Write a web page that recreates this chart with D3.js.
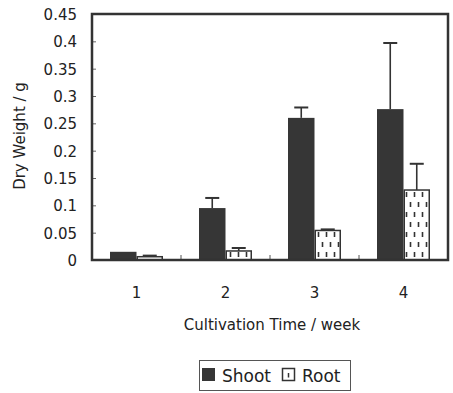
<!DOCTYPE html>
<html><head><meta charset="utf-8">
<script src="https://cdn.jsdelivr.net/npm/d3@7"></script>
<style>body{margin:0;background:#fff}svg{display:block}text{font-family:"DejaVu Sans",Arial,sans-serif;fill:#222}</style>
</head><body><svg id="c" width="453" height="393"></svg>
<script>
const weeks = ["1","2","3","4"];
const shoot = [0.015, 0.095, 0.26, 0.276];
const shootErr = [0.0, 0.0185, 0.019, 0.121];
const root = [0.006, 0.0165, 0.054, 0.128];
const rootErr = [0.002, 0.0055, 0.002, 0.048];
const yTicks = [0,0.05,0.1,0.15,0.2,0.25,0.3,0.35,0.4,0.45];
const seriesNames = ["Shoot","Root"];

const svg = d3.select("#c");
const L=92, R=448, T=14, B=260;
const x = d3.scaleBand().domain(weeks).range([L,R]).paddingInner(0).paddingOuter(0);
const y = d3.scaleLinear().domain([0,0.45]).range([B,T]);
const bw = 26.5;
const ink = "#333";

const defs = svg.append("defs");
const pat = defs.append("pattern").attr("id","dash").attr("patternUnits","userSpaceOnUse")
  .attr("width",8).attr("height",20).attr("x",0).attr("y",0);
pat.append("rect").attr("width",8).attr("height",20).attr("fill","#fff");
pat.append("line").attr("x1",2.5).attr("x2",2.5).attr("y1",2).attr("y2",7).attr("stroke",ink).attr("stroke-width",1.6);
pat.append("line").attr("x1",6.5).attr("x2",6.5).attr("y1",12).attr("y2",17).attr("stroke",ink).attr("stroke-width",1.6);

const yAx = svg.append("g").attr("transform",`translate(${L},0)`)
  .call(d3.axisLeft(y).tickValues(yTicks).tickSize(-4).tickPadding(15).tickFormat(d=>d3.format("")(d)));
yAx.select(".domain").remove();
yAx.selectAll("line").attr("stroke","#666").attr("stroke-width",1);
yAx.selectAll("text").style("font-size","15px").attr("fill","#222").attr("dy","0.36em");

const xAx = svg.append("g").attr("transform",`translate(0,${B})`)
  .call(d3.axisBottom(x).tickSize(0).tickPadding(27));
xAx.select(".domain").remove();
xAx.selectAll("text").style("font-size","15px").attr("fill","#222");
svg.append("g").selectAll("line").data(weeks.slice(1)).join("line")
  .attr("x1",d=>x(d)).attr("x2",d=>x(d)).attr("y1",B).attr("y2",B-5)
  .attr("stroke","#555").attr("stroke-width",1);

const g = svg.append("g");
weeks.forEach((w,i)=>{
  const c = x(w)+x.bandwidth()/2;
  g.append("rect").attr("x",c-bw).attr("width",bw).attr("y",y(shoot[i])).attr("height",y(0)-y(shoot[i]))
   .attr("fill","#363636");
  if(shootErr[i]>0){
    g.append("line").attr("x1",c-bw/2).attr("x2",c-bw/2).attr("y1",y(shoot[i])).attr("y2",y(shoot[i]+shootErr[i])).attr("stroke",ink).attr("stroke-width",1.6);
    g.append("line").attr("x1",c-bw/2-7).attr("x2",c-bw/2+7).attr("y1",y(shoot[i]+shootErr[i])).attr("y2",y(shoot[i]+shootErr[i])).attr("stroke",ink).attr("stroke-width",2);
  }
  g.append("rect").attr("x",c+0.75).attr("width",bw-1.5).attr("y",y(root[i])).attr("height",y(0)-y(root[i]))
   .attr("fill","url(#dash)").attr("stroke",ink).attr("stroke-width",1.5);
  if(rootErr[i]>0){
    g.append("line").attr("x1",c+bw/2).attr("x2",c+bw/2).attr("y1",y(root[i])).attr("y2",y(root[i]+rootErr[i])).attr("stroke",ink).attr("stroke-width",1.6);
    g.append("line").attr("x1",c+bw/2-7).attr("x2",c+bw/2+7).attr("y1",y(root[i]+rootErr[i])).attr("y2",y(root[i]+rootErr[i])).attr("stroke",ink).attr("stroke-width",2);
  }
});

svg.append("rect").attr("x",L).attr("y",T).attr("width",R-L).attr("height",B-T)
  .attr("fill","none").attr("stroke",ink).attr("stroke-width",2.5);

svg.append("text").attr("x",(L+R)/2+2).attr("y",330).attr("text-anchor","middle").style("font-size","15px").text("Cultivation Time / week");
svg.append("text").attr("transform","translate(25,136) rotate(-90)").attr("text-anchor","middle").style("font-size","15px").text("Dry Weight / g");

const lg = svg.append("g");
lg.append("rect").attr("x",199.5).attr("y",360.5).attr("width",151).attr("height",30).attr("fill","#fff").attr("stroke","#555").attr("stroke-width",1);
lg.append("rect").attr("x",202).attr("y",368).attr("width",13).attr("height",13).attr("fill","#363636");
lg.append("text").attr("x",222).attr("y",382).style("font-size","17px").text(seriesNames[0]);
lg.append("rect").attr("x",282.5).attr("y",368.5).attr("width",12).attr("height",12).attr("fill","#fff").attr("stroke",ink).attr("stroke-width",1.5);
lg.append("line").attr("x1",288.5).attr("x2",288.5).attr("y1",373).attr("y2",377.5).attr("stroke",ink).attr("stroke-width",1.5);
lg.append("text").attr("x",302).attr("y",382).style("font-size","17px").text(seriesNames[1]);
</script></body></html>
